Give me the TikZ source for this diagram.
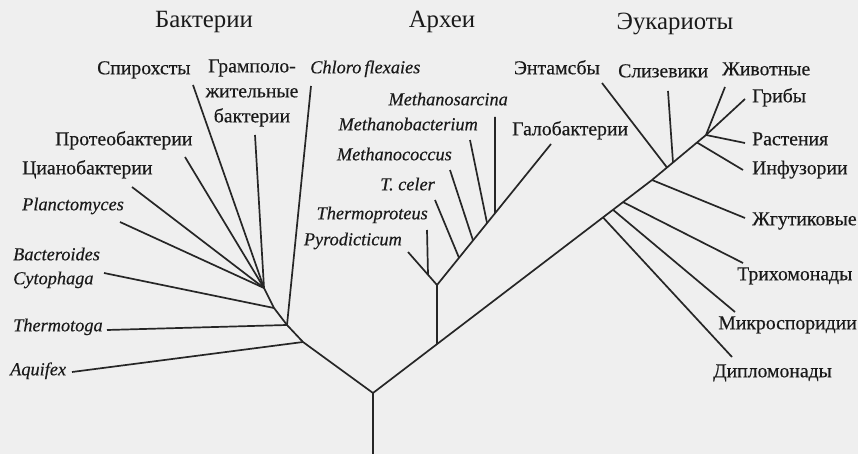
\documentclass[tikz,border=0pt]{standalone}
\usepackage{fontspec}
\usetikzlibrary{calc}
\setmainfont{Liberation Serif}
\newfontfamily\lblfont{Liberation Serif}[FakeBold=0.35]
\definecolor{bg}{HTML}{EFEFEF}
\definecolor{ln}{HTML}{262626}
\definecolor{tx}{HTML}{1A1A1A}
\begin{document}
\begin{tikzpicture}[x=1pt,y=-1pt,
  branch/.style={draw=ln,line width=1.7pt,line join=round},
  lbl/.style={text=tx,inner sep=0pt,font=\lblfont\fontsize{19.7}{24}\selectfont},
  ilbl/.style={text=tx,inner sep=0pt,font=\lblfont\fontsize{18.3}{22}\selectfont\itshape},
  ttl/.style={text=tx,inner sep=0pt,font=\fontsize{24.8}{28}\selectfont}]
\fill[bg] (0,0) rectangle (858,454);
\useasboundingbox (0,0) rectangle (858,454);

% ---- titles
\node[ttl,anchor=mid] (tBac) at (204,25) {Бактерии};
\node[ttl,anchor=mid] (tArc) at (442,25) {Археи};
\node[ttl,anchor=mid] (tEuk) at (675,27) {Эукариоты};

% ---- tree points
\coordinate (base) at (373,454);
\coordinate (R) at (373,393);
\coordinate (A1) at (303,342);
\coordinate (B) at (287,325);
\coordinate (C1) at (274,308);
\coordinate (C2) at (264,288);
\coordinate (X) at (437,344.1);
\coordinate (J1) at (603,217.4);
\coordinate (J2) at (613,209.8);
\coordinate (J3) at (623,202.1);
\coordinate (J4) at (652,180);
\coordinate (J5) at (667,167.5);
\coordinate (J6) at (673,162.5);
\coordinate (J7) at (697,142.5);
\coordinate (K) at (706,135);
\coordinate (A2) at (437,285);

% ---- leaf ends
\coordinate (eAq) at (72,372);
\coordinate (eTh) at (107,330);
\coordinate (eBa) at (104,273);
\coordinate (ePl) at (120,222);
\coordinate (eCy) at (132,187);
\coordinate (ePr) at (185,157);
\coordinate (eSp) at (193,85);
\coordinate (eGr) at (255,135);
\coordinate (eCh) at (311,86);

\coordinate (ePy) at (408,252);
\coordinate (P1) at ($(A2)!0.31!(ePy)$);
\coordinate (eTp) at (427,230);
\coordinate (eGa) at (551,144);
\coordinate (M1) at ($(A2)!0.193!(eGa)$);
\coordinate (M2) at ($(A2)!0.316!(eGa)$);
\coordinate (M3) at ($(A2)!0.439!(eGa)$);
\coordinate (M4) at ($(A2)!0.509!(eGa)$);
\coordinate (eTc) at (435,200);
\coordinate (eMc) at (450,170);
\coordinate (eMb) at (470,140);
\coordinate (eMs) at (495,117);

\coordinate (eDi) at (732,357);
\coordinate (eMi) at (735,312);
\coordinate (eTr) at (743,263);
\coordinate (eZg) at (745,218);
\coordinate (eEn) at (602,83);
\coordinate (eSl) at (668,91);
\coordinate (eIn) at (743,170);
\coordinate (eRa) at (745,143);
\coordinate (eGb) at (745,99);
\coordinate (eZv) at (725,87);

% ---- branches
\draw[branch] (base) -- (R);
\draw[branch] (R) -- (A1) -- (B) -- (C1) -- (C2);
\draw[branch] (A1) -- (eAq);
\draw[branch] (B) -- (eTh);
\draw[branch] (B) -- (eCh);
\draw[branch] (C1) -- (eBa);
\draw[branch] (C2) -- (ePl);
\draw[branch] (C2) -- (eCy);
\draw[branch] (C2) -- (ePr);
\draw[branch] (C2) -- (eSp);
\draw[branch] (C2) -- (eGr);

\draw[branch] (R) -- (X) -- (J1) -- (J4) -- (K);
\draw[branch] (X) -- (A2);
\draw[branch] (A2) -- (ePy);
\draw[branch] (P1) -- (eTp);
\draw[branch] (A2) -- (eGa);
\draw[branch] (M1) -- (eTc);
\draw[branch] (M2) -- (eMc);
\draw[branch] (M3) -- (eMb);
\draw[branch] (M4) -- (eMs);

\draw[branch] (J1) -- (eDi);
\draw[branch] (J2) -- (eMi);
\draw[branch] (J3) -- (eTr);
\draw[branch] (J4) -- (eZg);
\draw[branch] (J5) -- (eEn);
\draw[branch] (J6) -- (eSl);
\draw[branch] (J7) -- (eIn);
\draw[branch] (K) -- (eRa);
\draw[branch] (K) -- (eGb);
\draw[branch] (K) -- (eZv);

% ---- bacteria labels
\node[lbl,anchor=mid west] (lSp) at (97,72) {Спирохсты};
\node[lbl,align=center,anchor=center] (lGr) at (252,93) {Грамполо-\\[1pt]жительные\\[1pt]бактерии};
\node[ilbl,anchor=mid west] (lCh) at (310,71) {Chloro\,flexaies};
\node[lbl,anchor=mid west] (lPr) at (55,143) {Протеобактерии};
\node[lbl,anchor=mid west] (lCy) at (22,172) {Цианобактерии};
\node[ilbl,anchor=mid west] (lPl) at (22,208) {Planctomyces};
\node[ilbl,anchor=mid west] (lBa) at (13,258) {Bacteroides};
\node[ilbl,anchor=mid west] (lCt) at (13,282) {Cytophaga};
\node[ilbl,anchor=mid west] (lTh) at (13,329) {Thermotoga};
\node[ilbl,anchor=mid west] (lAq) at (10,373) {Aquifex};

% ---- archaea labels
\node[ilbl,anchor=mid east] (lMs) at (508,103) {Methanosarcina};
\node[ilbl,anchor=mid east] (lMb) at (478,128) {Methanobacterium};
\node[ilbl,anchor=mid east] (lMc) at (452,158) {Methanococcus};
\node[ilbl,anchor=mid east] (lTc) at (435,188) {T. celer};
\node[ilbl,anchor=mid east] (lTp) at (428,217) {Thermoproteus};
\node[ilbl,anchor=mid east] (lPy) at (402,243) {Pyrodicticum};
\node[lbl,anchor=mid west] (lGa) at (512,133) {Галобактерии};

% ---- eukaryote labels
\node[lbl,anchor=mid east] (lEn) at (600,72) {Энтамсбы};
\node[lbl,anchor=mid west] (lSl) at (618,75) {Слизевики};
\node[lbl,anchor=mid west] (lZv) at (722,73) {Животные};
\node[lbl,anchor=mid west] (lGb) at (752,100) {Грибы};
\node[lbl,anchor=mid west] (lRa) at (752,143) {Растения};
\node[lbl,anchor=mid west] (lIn) at (752,172) {Инфузории};
\node[lbl,anchor=mid west] (lZg) at (752,223) {Жгутиковые};
\node[lbl,anchor=mid west] (lTr) at (737,278) {Трихомонады};
\node[lbl,anchor=mid east] (lMi) at (857,327) {Микроспоридии};
\node[lbl,anchor=mid west] (lDi) at (713,375) {Дипломонады};
\end{tikzpicture}
\end{document}
